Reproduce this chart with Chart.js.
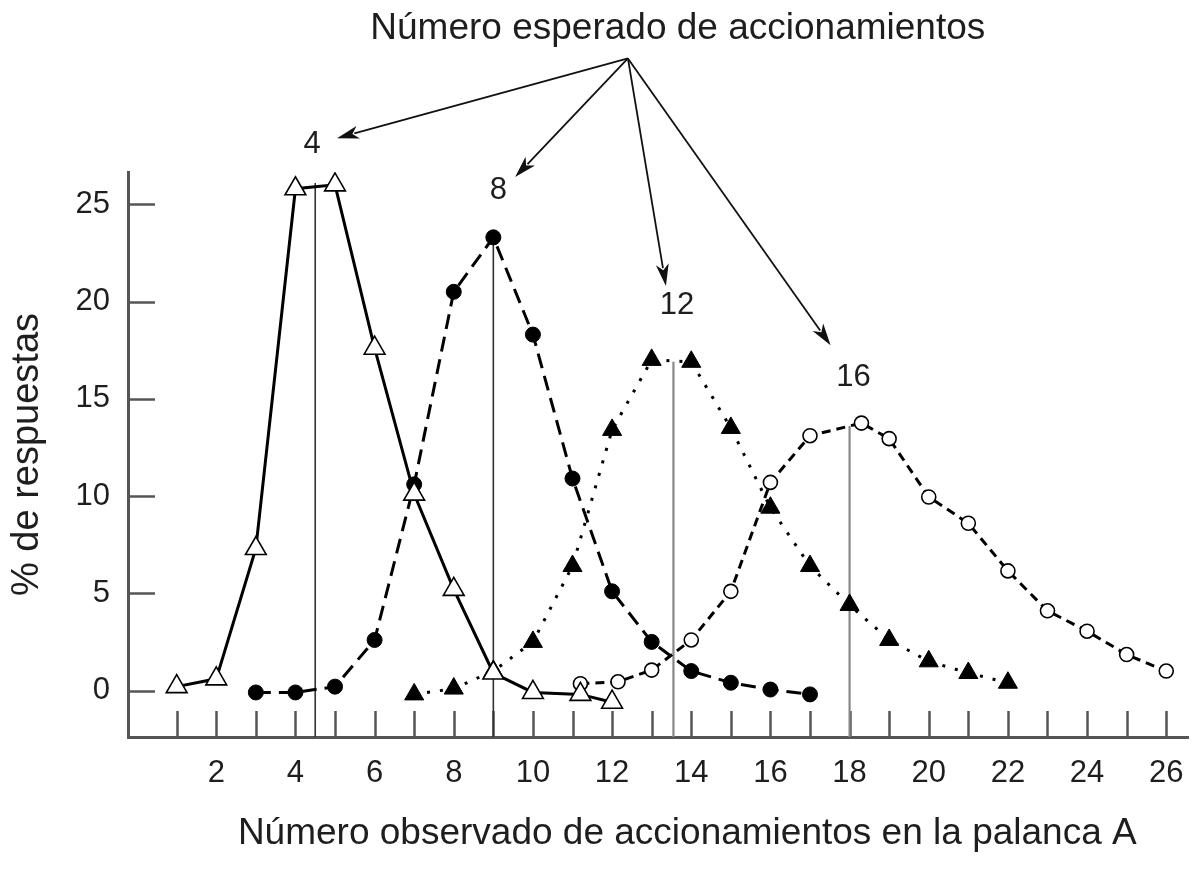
<!DOCTYPE html>
<html lang="es">
<head>
<meta charset="utf-8">
<title>Número observado de accionamientos en la palanca A</title>
<script src="https://cdn.jsdelivr.net/npm/chart.js@4.4.0/dist/chart.umd.min.js"></script>
<style>
  html, body { margin: 0; padding: 0; background: #fff; }
  #wrap { width: 1202px; height: 869px; }
</style>
</head>
<body>
<div id="wrap"><canvas id="chart" width="1202" height="869"></canvas></div>
<script>
// expected number 4 (open triangles, solid line)
const xA = [1, 2, 3, 4, 5, 6, 7, 8, 9, 10, 11.2, 12];
const yA = [0.2, 0.6, 7.3, 25.8, 26.0, 17.6, 10.1, 5.2, 0.9, -0.1, -0.2, -0.6];

// expected number 8 (filled circles, long dashes)
const xB = [3, 4, 5, 6, 7, 8, 9, 10, 11, 12, 13, 14, 15, 16, 17];
const yB = [-0.1, -0.1, 0.2, 2.6, 10.6, 20.5, 23.3, 18.3, 10.9, 5.1, 2.5, 1.0, 0.4, 0.05, -0.2];

// expected number 12 (filled triangles, dotted)
const xC = [7, 8, 9, 10, 11, 12, 13, 14, 15, 16, 17, 18, 19, 20, 21, 22];
const yC = [-0.2, 0.1, 1.0, 2.5, 6.4, 13.4, 17.0, 16.9, 13.5, 9.4, 6.4, 4.4, 2.6, 1.5, 0.9, 0.4];

// expected number 16 (open circles, short dashes)
const xD = [11.2, 12.15, 13, 14, 15, 16, 17, 18.3, 19, 20, 21, 22, 23, 24, 25, 26];
const yD = [0.35, 0.45, 1.05, 2.6, 5.1, 10.7, 13.1, 13.75, 12.95, 9.95, 8.6, 6.15, 4.1, 3.05, 1.85, 1.0];

// vertical lines at the mean of each distribution
const meanX = [4.5, 9, 13.55, 18];
const meanTop = [26.1, 23.3, 16.9, 13.6];
const expectedLabels = ['4', '8', '12', '16'];

const xTickLabels = [2, 4, 6, 8, 10, 12, 14, 16, 18, 20, 22, 24, 26];
const xTickMarks = [1, 2, 3, 4, 5, 6, 7, 8, 9, 10, 11, 12, 13, 14, 15, 16, 17, 18, 19, 20, 21, 22, 23, 24, 25, 26];
const yTickLabels = [0, 5, 10, 15, 20, 25];

const X_MIN = -0.23, X_MAX = 26.56, Y_MIN = -2.39, Y_MAX = 26.66;
const FONT = "'Liberation Sans', Arial, Helvetica, sans-serif";
const TEXT = '#1e1e1e';
const AXIS = '#555';

const pts = (xs, ys) => xs.map((x, i) => ({ x: x, y: ys[i] }));

// annotation placement in data units
const notes = {
  title: { text: 'Número esperado de accionamientos', x: 13.66, y: 34.0 },
  xTitle: { text: 'Número observado de accionamientos en la palanca A', x: 13.9, y: -7.35 },
  labelX: [4.42, 9.13, 13.64, 18.1],
  labelY: [28.1, 25.7, 19.8, 16.1],
  from: { x: 12.4, y: 32.5 },
  tipX: [5.05, 9.55, 13.36, 17.52],
  tipY: [28.4, 26.4, 20.8, 17.75]
};

function arrow(ctx, x0, y0, x1, y1) {
  const a = Math.atan2(y1 - y0, x1 - x0);
  const len = 22, half = 6.5;
  const bx = x1 - Math.cos(a) * len, by = y1 - Math.sin(a) * len;
  ctx.beginPath();
  ctx.moveTo(x0, y0);
  ctx.lineTo(bx + Math.cos(a) * 4, by + Math.sin(a) * 4);
  ctx.stroke();
  ctx.beginPath();
  ctx.moveTo(x1, y1);
  ctx.lineTo(bx - Math.sin(a) * half, by + Math.cos(a) * half);
  ctx.lineTo(bx + Math.cos(a) * 6, by + Math.sin(a) * 6);
  ctx.lineTo(bx + Math.sin(a) * half, by - Math.cos(a) * half);
  ctx.closePath();
  ctx.fill();
}

const overlay = {
  id: 'overlay',
  beforeDatasetsDraw(chart) {
    const { ctx, chartArea, scales: { x, y } } = chart;
    ctx.save();
    ctx.strokeStyle = AXIS;
    ctx.lineWidth = 2.5;
    xTickMarks.forEach(v => {
      const px = Math.round(x.getPixelForValue(v)) + 0.5;
      ctx.beginPath();
      ctx.moveTo(px, chartArea.bottom);
      ctx.lineTo(px, chartArea.bottom - 26);
      ctx.stroke();
    });
    yTickLabels.forEach(v => {
      const py = Math.round(y.getPixelForValue(v)) + 0.5;
      ctx.beginPath();
      ctx.moveTo(chartArea.left, py);
      ctx.lineTo(chartArea.left + 27, py);
      ctx.stroke();
    });
    ctx.restore();
  },
  afterDraw(chart) {
    const { ctx, scales: { x, y } } = chart;
    ctx.save();
    ctx.fillStyle = TEXT;
    ctx.textAlign = 'center';
    ctx.textBaseline = 'middle';
    ctx.font = '37px ' + FONT;
    ctx.fillText(notes.title.text, x.getPixelForValue(notes.title.x), y.getPixelForValue(notes.title.y));
    ctx.fillText(notes.xTitle.text, x.getPixelForValue(notes.xTitle.x), y.getPixelForValue(notes.xTitle.y));
    ctx.font = '31px ' + FONT;
    expectedLabels.forEach((t, i) => {
      ctx.fillText(t, x.getPixelForValue(notes.labelX[i]), y.getPixelForValue(notes.labelY[i]));
    });
    ctx.strokeStyle = '#111';
    ctx.fillStyle = '#111';
    ctx.lineWidth = 1.8;
    const ox = x.getPixelForValue(notes.from.x), oy = y.getPixelForValue(notes.from.y);
    notes.tipX.forEach((tx, i) => {
      arrow(ctx, ox, oy, x.getPixelForValue(tx), y.getPixelForValue(notes.tipY[i]));
    });
    ctx.restore();
  }
};

const meanSets = meanX.map((mx, i) => ({
  data: [{ x: mx, y: Y_MIN }, { x: mx, y: meanTop[i] }],
  borderColor: i < 2 ? '#333' : '#888',
  borderWidth: i < 2 ? 1.6 : 2.2,
  pointRadius: 0,
  order: 10
}));

new Chart(document.getElementById('chart'), {
  type: 'line',
  data: {
    datasets: [
      {
        data: pts(xA, yA),
        borderColor: '#000', borderWidth: 3,
        pointStyle: 'triangle', pointRadius: 12,
        pointBackgroundColor: '#fff', pointBorderColor: '#000', pointBorderWidth: 1.6,
        order: 1
      },
      {
        data: pts(xB, yB),
        borderColor: '#000', borderWidth: 3, borderDash: [15, 8],
        pointStyle: 'circle', pointRadius: 7.5,
        pointBackgroundColor: '#000', pointBorderColor: '#000', pointBorderWidth: 1,
        order: 2
      },
      {
        data: pts(xC, yC),
        borderColor: '#000', borderWidth: 3, borderDash: [3, 10],
        pointStyle: 'triangle', pointRadius: 11,
        pointBackgroundColor: '#000', pointBorderColor: '#000', pointBorderWidth: 1,
        order: 3
      },
      {
        data: pts(xD, yD),
        borderColor: '#000', borderWidth: 3, borderDash: [9, 6],
        pointStyle: 'circle', pointRadius: 7,
        pointBackgroundColor: '#fff', pointBorderColor: '#000', pointBorderWidth: 1.6,
        order: 4
      },
      ...meanSets
    ]
  },
  options: {
    responsive: false,
    animation: false,
    devicePixelRatio: 1,
    layout: { padding: { top: 172, right: 10, left: 0, bottom: 0 } },
    plugins: { legend: { display: false }, tooltip: { enabled: false } },
    elements: { line: { tension: 0 } },
    scales: {
      x: {
        type: 'linear', min: X_MIN, max: X_MAX,
        afterFit: s => { s.height = 132; },
        afterBuildTicks: s => { s.ticks = xTickLabels.map(v => ({ value: v })); },
        grid: { display: false },
        border: { display: true, color: AXIS, width: 3 },
        ticks: { color: TEXT, font: { family: FONT, size: 31 }, padding: 10, autoSkip: false, maxRotation: 0 }
      },
      y: {
        type: 'linear', min: Y_MIN, max: Y_MAX,
        afterFit: s => { s.width = 128; },
        afterBuildTicks: s => { s.ticks = yTickLabels.map(v => ({ value: v })); },
        grid: { display: false },
        border: { display: true, color: AXIS, width: 3 },
        ticks: { color: TEXT, font: { family: FONT, size: 31 }, padding: 10 },
        title: {
          display: true, text: '% de respuestas', color: TEXT,
          font: { family: FONT, size: 38 }, padding: { top: 5, bottom: 0 }
        }
      }
    }
  },
  plugins: [overlay]
});
</script>
</body>
</html>
